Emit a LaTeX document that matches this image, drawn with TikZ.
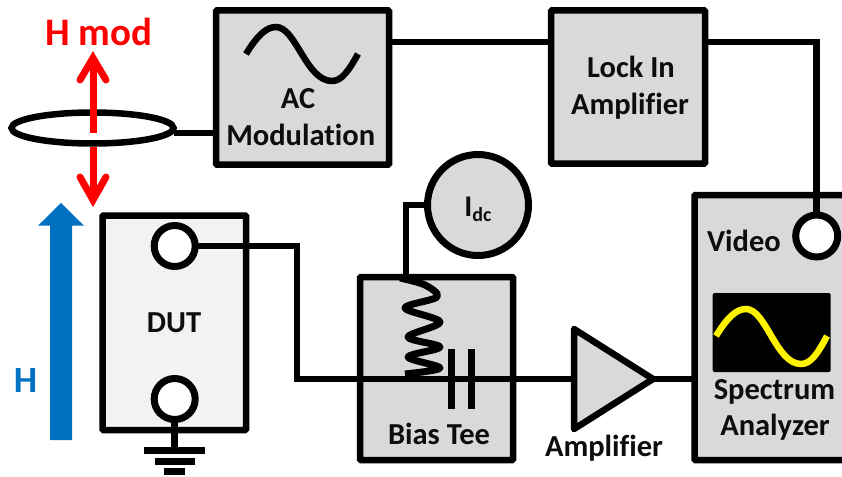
\documentclass[tikz,border=0pt]{standalone}
\usepackage{fontspec}
\usetikzlibrary{shapes.geometric}
\setmainfont[Ligatures=CommonOff]{Carlito}
\definecolor{boxgray}{HTML}{D9D9D9}
\definecolor{dutgray}{HTML}{F2F2F2}
\definecolor{hblue}{HTML}{0070C0}
\definecolor{txt}{HTML}{0D0D0D}
\tikzset{
  every node/.style={outer sep=0pt},
  blockbox/.style={draw=black,line width=6.5pt,fill=boxgray,rounded corners=1pt,inner sep=0pt,anchor=north west},
  wire/.style={draw=black,line width=6.5pt},
  port/.style={circle,draw=black,line width=7pt,fill=white,minimum size=41pt,inner sep=0pt},
  lbl/.style={font=\fontsize{30.5}{33}\selectfont\bfseries,text=txt,inner sep=0pt,anchor=base},
  redshaft/.style={draw=red,line width=7pt},
  redhead/.style={draw=red,line width=7pt,line cap=round,line join=miter},
}
\begin{document}
\begin{tikzpicture}[x=1pt,y=-1pt]
\useasboundingbox (0,0) rectangle (842,476);
% coil
\node[draw=black,line width=6.5pt,ellipse,minimum width=162pt,minimum height=31pt,inner sep=0pt] (coil) at (92.5,128) {};
% red arrows
\coordinate (upS) at (93,133);
\coordinate (upT) at (93,58);
\coordinate (dnS) at (93,147);
\coordinate (dnT) at (93,200);
\draw[redshaft] (upS) -- (upT);
\draw[redshaft] (dnS) -- (dnT);
\draw[redhead] (80,80) -- (upT) -- (106,80);
\draw[redhead] (80,177) -- (dnT) -- (106,177);
\node[lbl,text=red,font=\fontsize{39}{42}\selectfont\bfseries] (hmod) at (99,46) {H mod};
% blocks
\node[blockbox,minimum width=173pt,minimum height=154pt] (ac) at (216,10.5) {};
\node[blockbox,minimum width=154pt,minimum height=153pt] (lock) at (551,10.5) {};
\node[lbl] (aclbl) at (298,108) {AC};
\node[lbl] (modlbl) at (300.7,145) {Modulation};
\node[lbl] (locklbl) at (631,78) {Lock In};
\node[lbl] (amplbl) at (630,114) {Amplifier};
\draw[line width=6.5pt] (246,54) .. controls (257,36) and (266,27) .. (276,27) .. controls (296,27) and (306,81) .. (332,81) .. controls (342,81) and (349,70) .. (358,54);
% spectrum analyzer (open at right edge)
\fill[boxgray] (694.5,195) rectangle (842,460);
\draw[wire,rounded corners=1pt] (842,195) -- (694.5,195) -- (694.5,460) -- (842,460);
\coordinate (sa) at (694.5,379);
\node[draw=none,fill=black,rounded corners=2pt,minimum width=118pt,minimum height=79pt,inner sep=0pt] (screen) at (771.7,332.5) {};
\draw[draw=yellow,line width=6.5pt] (716,336) .. controls (727,318) and (736,309) .. (746,309) .. controls (766,309) and (776,364) .. (801,364) .. controls (811,364) and (818,353) .. (827,336);
\node[lbl] (video) at (744,251) {Video};
\node[lbl] (speclbl) at (774.5,399) {Spectrum};
\node[lbl] (analbl) at (775,435) {Analyzer};
% DUT
\node[blockbox,fill=dutgray,minimum width=143.5pt,minimum height=214.5pt] (dut) at (102.5,215.5) {};
\node[lbl] (dutlbl) at (174,332) {DUT};
\node[port] (dut1) at (174.7,246) {};
\node[port] (dut2) at (174.7,399) {};
% ground
\coordinate (gnd) at (174.7,450);
\draw[wire] (dut2.south) -- (gnd);
\draw[line width=7pt] (143.5,450) -- (205,450);
\draw[line width=7pt] (154.5,461) -- (195,461);
\draw[line width=7pt] (164,471) -- (185,471);
% blue arrow, H
\fill[hblue] (50,440) -- (50,225.7) -- (38,225.7) -- (61,203) -- (84,225.7) -- (72,225.7) -- (72,440) -- cycle;
\node[lbl,text=hblue,font=\fontsize{37}{40}\selectfont\bfseries] (hlbl) at (25.5,392) {H};
% bias tee
\node[blockbox,minimum width=153pt,minimum height=183pt] (tee) at (360,277) {};
\node[lbl] (teelbl) at (439,444) {Bias Tee};
% amplifier
\coordinate (a1) at (574,329);
\coordinate (a2) at (574,429);
\coordinate (a3) at (653,379);
\draw[draw=black,line width=6.5pt,fill=boxgray,line join=round] (a1) -- (a3) -- (a2) -- cycle;
\node[lbl] (amp2) at (604,456) {Amplifier};
% Idc
\node[circle,draw=black,line width=7pt,fill=boxgray,minimum size=101pt,inner sep=0pt] (idc) at (478,205) {};
\node[lbl,font=\fontsize{30}{33}\selectfont\bfseries] (idclbl) at (478,216) {I\raisebox{-5pt}{\fontsize{20}{22}\selectfont dc}};
% Wires
\coordinate (c1) at (297,246);
\coordinate (c2) at (297,379);
\coordinate (teetop) at (406,277);
\draw[wire] (dut1.east) -- (c1) -- (c2) -- (a1 |- c2);
\draw[wire] (a3) -- (sa);
\draw[wire] (idc.west) -- (406,205) -- (teetop);
\draw[wire] (coil.east |- 0,133) -- (216,133);
\draw[wire] (389,42) -- (551,42);
\node[port,minimum size=42pt] (vid) at (816.7,236) {};
\draw[wire] (705,42) -- (816.7,42) -- (vid.north);
% inductor
\draw[line width=7pt,line join=round] plot[smooth,tension=0.55] coordinates {(400,278) (425,285) (437,297) (405,308) (440,322) (408,337) (440,347) (408,357) (440,368) (405,374)};
% capacitor
\draw[line width=7pt] (451,349) -- (451,409);
\draw[line width=7pt] (471.5,349) -- (471.5,409);
\end{tikzpicture}
\end{document}
